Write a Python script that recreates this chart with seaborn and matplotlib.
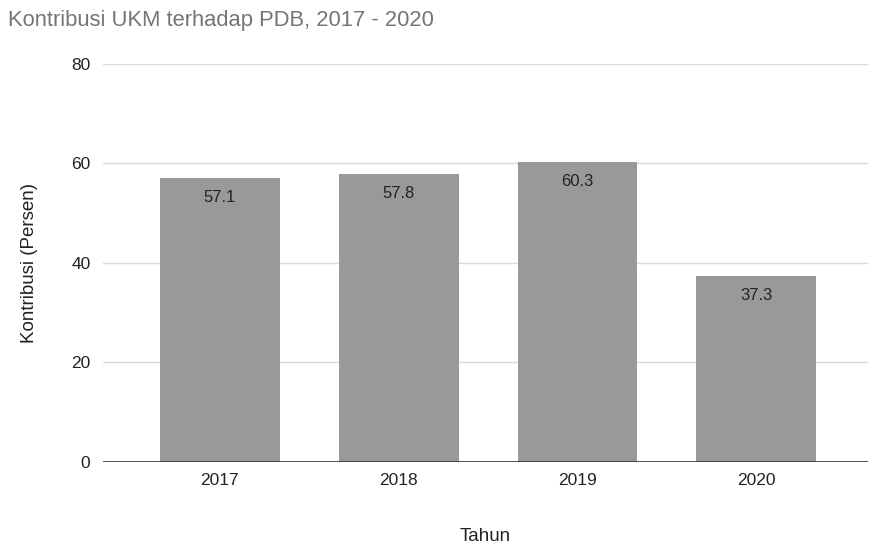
import matplotlib
matplotlib.use("Agg")
import matplotlib.pyplot as plt
import seaborn as sns
import pandas as pd

years = ["2017", "2018", "2019", "2020"]
values = [57.1, 57.8, 60.3, 37.3]
yticks = [0, 20, 40, 60, 80]

sns.set_theme(style="white")
plt.rcParams['font.family'] = ['Liberation Sans', 'DejaVu Sans']

df = pd.DataFrame({"Tahun": years, "Kontribusi": values})

fig = plt.figure(figsize=(8.69, 5.45), dpi=100)
ax = fig.add_axes([0.1185, 0.1523, 0.8805, 0.7303])

sns.barplot(data=df, x="Tahun", y="Kontribusi", color="#999999", saturation=1,
            width=0.67, ax=ax, zorder=3, linewidth=0, edgecolor="none")

ax.set_ylim(0, 80)
ax.set_yticks(yticks)
ax.set_xlim(-0.654, 3.626)
ax.grid(axis="y", color="#dadada", linewidth=1, zorder=0)
ax.axhline(0, color="#333333", linewidth=1.2, zorder=4)
for s in ax.spines.values():
    s.set_visible(False)
ax.tick_params(axis="both", length=0, labelsize=12.5, labelcolor="#222222")
ax.tick_params(axis="y", pad=9)
ax.tick_params(axis="x", pad=8)

for i, v in enumerate(values):
    ax.annotate(f"{v}", (i, v), xytext=(0, -14), textcoords="offset points",
                ha="center", va="center", fontsize=12, color="#222222", zorder=5)

ax.set_xlabel("Tahun", fontsize=13.5, color="#222222", labelpad=29)
ax.set_ylabel("Kontribusi (Persen)", fontsize=13.5, color="#222222", labelpad=24)

fig.text(0.009, 0.963, "Kontribusi UKM terhadap PDB, 2017 - 2020", fontsize=15.8,
         color="#757575", ha="left", va="center")

fig.savefig("out.png", dpi=100)
